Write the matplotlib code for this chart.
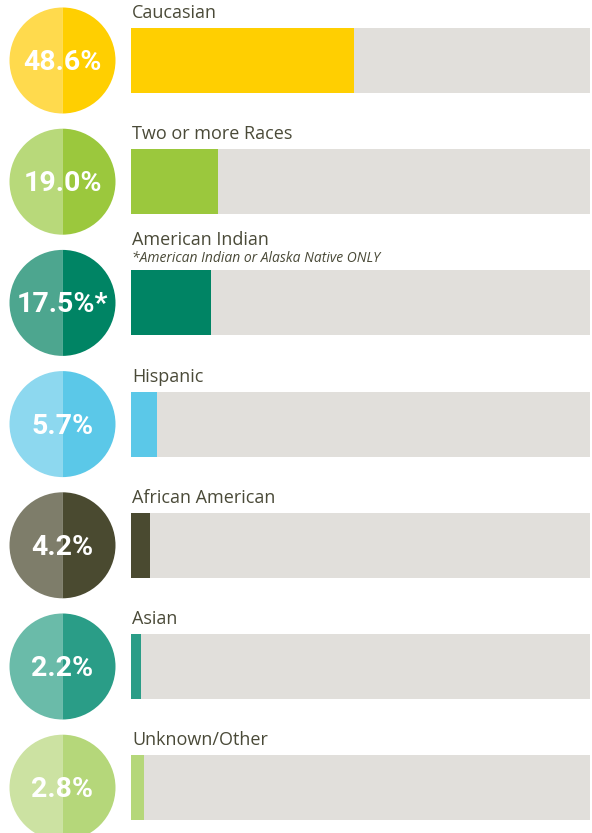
import matplotlib
matplotlib.use("Agg")
import matplotlib.pyplot as plt
from matplotlib.patches import Wedge

# data
groups = ['Caucasian', 'Two or more Races', 'American Indian', 'Hispanic',
          'African American', 'Asian', 'Unknown/Other']
values = [48.6, 19.0, 17.5, 5.7, 4.2, 2.2, 2.8]
labels = ['48.6%', '19.0%', '17.5%*', '5.7%', '4.2%', '2.2%', '2.8%']
notes = ['', '', '*American Indian or Alaska Native ONLY', '', '', '', '']
dark = ['#FFCF01', '#9BC83D', '#008464', '#5BC8E8', '#4A4A30', '#2A9D87', '#B5D77A']
light = ['#FFDA4D', '#B8D97A', '#4DA68F', '#8DD8EF', '#7E7D6A', '#6ABBA9', '#CCE2A2']

W, H = 592, 833
rows = [60.5 + 121.2 * i for i in range(len(groups))]  # row centers (px)
bar_h = 65
r = 53
cx = 62.5
text_col = '#4A4A38'

fig = plt.figure(figsize=(W / 100, H / 100), dpi=100)

# circles
axc = fig.add_axes([0, 0, 131 / W, 1])
axc.set_xlim(0, 131)
axc.set_ylim(H, 0)
axc.axis('off')
for i, y in enumerate(rows):
    axc.add_patch(Wedge((cx, y), r, 90, 270, color=light[i], lw=0))
    axc.add_patch(Wedge((cx, y), r, -90, 90, color=dark[i], lw=0))
    axc.text(cx, y + 2, labels[i], color='white', ha='center', va='center',
             fontsize=20.5, fontweight='bold', family='Roboto')

# bars
axb = fig.add_axes([131 / W, 0, 459 / W, 1])
axb.set_xlim(0, 100)
axb.set_ylim(H, 0)
axb.axis('off')
axb.barh(rows, [100] * len(rows), height=bar_h, color='#E1DFDB', lw=0)
axb.barh(rows, values, height=bar_h, left=0, color=dark, lw=0)
for i, y in enumerate(rows):
    top = y - bar_h / 2
    if notes[i]:
        axb.text(0.2, top - 25, groups[i], color=text_col, fontsize=13,
                 family='Open Sans', va='baseline')
        axb.text(0.2, top - 8, notes[i], color=text_col, fontsize=10,
                 family='Open Sans', style='italic', va='baseline')
    else:
        axb.text(0.2, top - 10, groups[i], color=text_col, fontsize=13,
                 family='Open Sans', va='baseline')

fig.savefig('out.png', dpi=100)
